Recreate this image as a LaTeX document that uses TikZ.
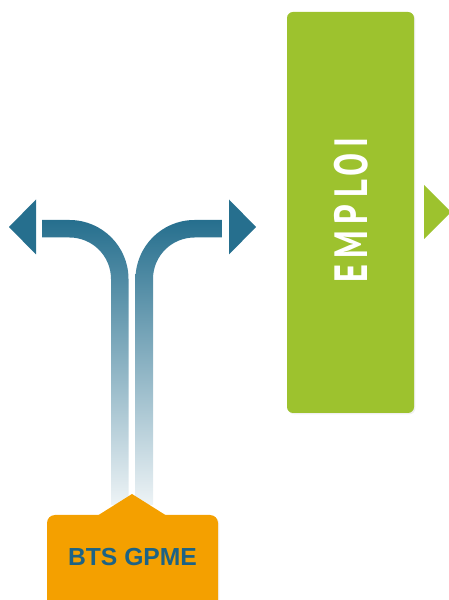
\documentclass[tikz,border=0pt]{standalone}
\usepackage{fontspec}
\usetikzlibrary{shadows}
\newfontfamily\labelfont{Liberation Sans}
\newfontfamily\emploifont[FakeStretch=0.74,LetterSpace=14]{PT Sans Bold}
\definecolor{forkblue}{RGB}{38,111,142}
\definecolor{emploigreen}{RGB}{157,194,46}
\definecolor{btsorange}{RGB}{244,160,0}
\definecolor{btstext}{RGB}{29,99,133}

\begin{document}
\begin{tikzpicture}[
    x=0.75pt, y=0.75pt,
    branch/.style={top color=forkblue, bottom color=forkblue!8, draw=none},
    head/.style={fill=forkblue, draw=none},
    greenbox/.style={fill=emploigreen, rounded corners=4.5pt, drop shadow={opacity=0.12, shadow xshift=1pt, shadow yshift=-1pt}},
    orangebox/.style={fill=btsorange, rounded corners=6pt, drop shadow={opacity=0.10, shadow xshift=1pt, shadow yshift=-1pt}}
]
\useasboundingbox (0,0) rectangle (449,600);

% left and right branches of the fork
\shade[branch] (42,380) -- (69.5,380) arc[start angle=90, end angle=0, radius=44.25pt]
    -- (128.5,95) -- (111,95) -- (111,321) arc[start angle=0, end angle=90, radius=31.125pt]
    -- (42,362.5) -- cycle;
\shade[branch] (222,380) -- (194.5,380) arc[start angle=90, end angle=180, radius=44.25pt]
    -- (135.5,95) -- (153,95) -- (153,321) arc[start angle=180, end angle=90, radius=31.125pt]
    -- (222,362.5) -- cycle;
\fill[head] (36,400.5) -- (9,373) -- (36,345.5) -- cycle;
\fill[head] (229,400.5) -- (256,373) -- (229,345.5) -- cycle;

% target
\fill[greenbox] (287,588) rectangle (414,187);
\node[font=\emploifont\fontsize{35}{35}\selectfont, text=white, rotate=90] (emploi) at (351,390) {EMPLOI};
\fill[emploigreen] (424,415) -- (451,388) -- (424,361) -- cycle;

% origin
\fill[orangebox] (47,85) rectangle (218,-20);
\fill[btsorange] (97,84) -- (132,106) -- (167,84) -- cycle;
\node[font=\labelfont\bfseries\fontsize{18.5}{18.5}\selectfont, text=btstext] (bts) at (132.5,43) {BTS GPME};
\end{tikzpicture}
\end{document}
